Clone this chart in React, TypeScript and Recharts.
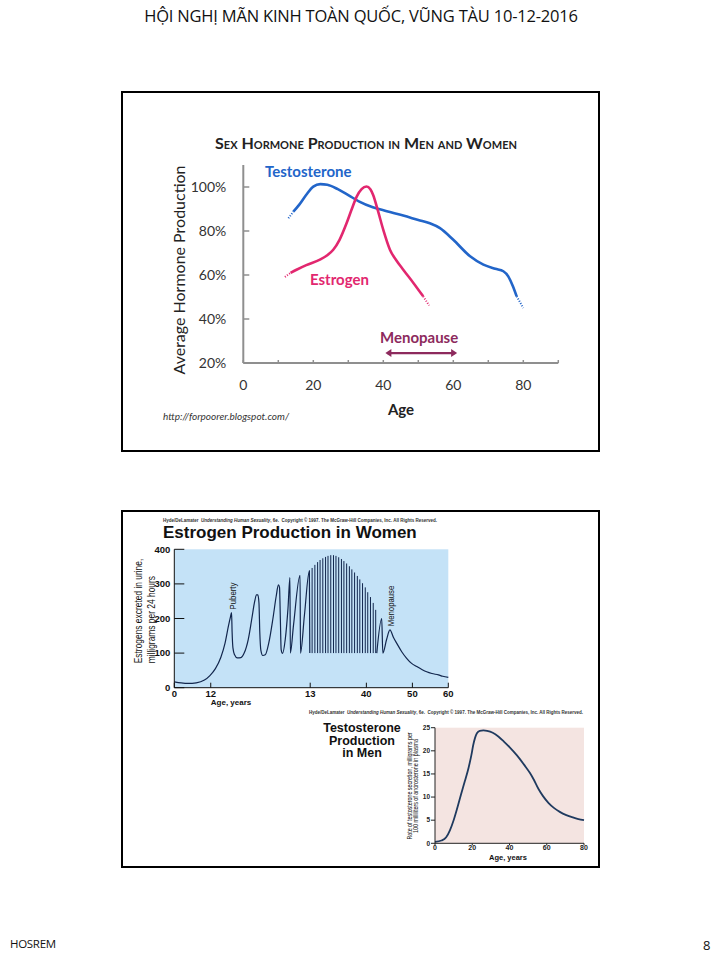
import React from "react";
import { CartesianGrid, Line, LineChart, ReferenceLine, XAxis, YAxis } from "recharts";

// ---------- chart 1: Sex hormone production in men and women (% of peak) ----------
const pctTicks = [20, 40, 60, 80, 100];
const ageTicks = [0, 10, 20, 30, 40, 50, 60, 70, 80, 90];

const testoAges = [14.3, 16, 18, 20, 22, 24, 27, 30, 33, 37, 41, 45.7, 50, 53.3, 56.2, 60, 64.8, 68.6, 72, 74.3, 75.7, 77, 78.1];
const testoValues = [88.8, 92, 96.5, 100.2, 101.3, 101, 99, 96.3, 93.5, 90.8, 89, 87, 85, 83.5, 81.3, 76, 68.5, 64.7, 62.8, 61.7, 59.4, 55, 50.3];
const testoHeadAges = [12.9, 14.3];
const testoHeadValues = [85.8, 88.8];
const testoTailAges = [78.1, 80];
const testoTailValues = [50.3, 45];

const estroAges = [13.5, 15.2, 18, 21.9, 24, 25.7, 27.5, 29.5, 31, 32.4, 33.8, 35.2, 36.3, 37.1, 38.5, 40, 41.9, 43.8, 45.7, 48.6, 51.4];
const estroValues = [61, 62.4, 64.5, 67, 69, 71.5, 76, 83.5, 90, 95.6, 99, 100.2, 99, 96.4, 89, 80.5, 71.5, 66.5, 62.4, 56.4, 50.3];
const estroHeadAges = [11.9, 13.5];
const estroHeadValues = [59.1, 61];
const estroTailAges = [51.4, 53.1];
const estroTailValues = [50.3, 46.1];

const menopauseFrom = 40.6;
const menopauseTo = 61.1;
const menopauseLevel = 24.5;

// ---------- chart 2: Estrogen production in women (x is position along a non-linear age axis) ----------
const womenTickPos = [0, 13.3, 49.6, 70.1, 86.9, 100];
const womenTickLabels = ["0", "12", "13", "40", "50", "60"];
const womenYTicks = [0, 100, 200, 300, 400];

const womenEarlyPos = [0, 2.5, 5, 8, 11, 13, 15, 17, 18.5, 19.8, 20.5, 20.9, 21.1, 21.4, 22, 23, 24.3, 25.5, 27, 28.3, 29.3, 30, 30.5, 30.9, 31.2, 31.6, 32.3, 33.2, 34.5, 36, 37.2, 38, 38.4, 38.7, 39, 39.5, 40.5, 41.5, 42.2, 42.35, 43.5, 45.9, 46.05, 47.5, 49.3, 49.45];
const womenEarlyValues = [17, 14, 12.5, 14, 22, 35, 55, 88, 128, 180, 205, 217, 160, 115, 95, 86, 87, 100, 140, 200, 248, 268, 268, 245, 160, 108, 93, 95, 130, 200, 265, 297, 290, 200, 110, 99, 140, 230, 318, 100, 180, 325, 100, 210, 338, 100];

const cyclePos = [50.3, 51.3, 52.3, 53.2, 54.2, 55.2, 56.1, 57.1, 58.1, 59, 60, 61, 61.9, 62.9, 63.9, 64.8, 65.8, 66.8, 67.7, 68.7, 69.7, 70.6, 71.6, 72.6, 73.5];
const cyclePeaks = [346, 355, 363, 369, 374, 378, 381, 383, 383, 381, 377, 372, 366, 359, 351, 342, 333, 323, 313, 302, 290, 276, 262, 245, 225];
const cycleBase = 100;

const womenLatePos = [73.9, 75.7, 76.1, 77.5, 78.7, 80, 81.2, 83, 84.8, 86.5, 88.5, 90.5, 92.1, 94, 96.4, 98, 100];
const womenLateValues = [100, 200, 100, 140, 167, 145, 128, 104, 85, 71, 61, 52, 46, 41, 37, 33, 30];

// ---------- chart 3: Testosterone production in men ----------
const menTicksX = [0, 20, 40, 60, 80];
const menTicksY = [0, 5, 10, 15, 20, 25];
const menAges = [0, 3.5, 6, 8, 10, 12, 14, 16, 18, 19.5, 20.5, 21.5, 22.5, 24, 26, 28, 31, 34, 37, 40, 44, 48, 51, 53, 55.5, 58, 61, 64, 67, 70.5, 74, 77, 80];
const menValues = [0.3, 0.6, 1.3, 2.8, 5, 7.7, 10.6, 13.4, 16.3, 19, 21.2, 22.8, 23.8, 24.3, 24.4, 24.3, 23.9, 23.1, 22, 20.8, 19, 16.9, 15.2, 13.8, 11.8, 10.2, 8.7, 7.6, 6.8, 6.1, 5.6, 5.25, 5];

const zip = (xs: number[], ys: number[], xk = "x") => xs.map((x, i) => ({ [xk]: x, v: ys[i] }));

const cycleData = cyclePos.flatMap((u, i) => [
  { x: u, v: cycleBase },
  { x: u, v: cyclePeaks[i] },
  { x: u, v: null },
]);

const BLUE = "#2265c9";
const PINK = "#e2276f";
const PLUM = "#8d2a5d";
const NAVY = "#12264d";
const ARIAL = "'Liberation Sans', Arial, sans-serif";
const LATO = "Lato, 'Open Sans', sans-serif";

type TickOpts = {
  side: "left" | "bottom";
  margin: number;
  len: number;
  color: string;
  width: number;
  text: React.SVGProps<SVGTextElement>;
  fmt: (v: number) => string;
};

// tick marks drawn inward (into the plot), like the source figures
function innerTick(o: TickOpts) {
  return (p: any) => {
    const label = o.fmt(p.payload.value);
    if (o.side === "left") {
      const ax = p.x + o.margin;
      return (
        <g>
          <line x1={ax} x2={ax + o.len} y1={p.y} y2={p.y} stroke={o.color} strokeWidth={o.width} />
          <text x={p.x} y={p.y} dy="0.35em" textAnchor="end" {...o.text}>
            {label}
          </text>
        </g>
      );
    }
    const ay = p.y - o.margin;
    return (
      <g>
        <line x1={p.x} x2={p.x} y1={ay} y2={ay - o.len} stroke={o.color} strokeWidth={o.width} />
        {label !== "" && (
          <text x={p.x} y={p.y} dy="0.72em" textAnchor="middle" {...o.text}>
            {label}
          </text>
        )}
      </g>
    );
  };
}

function ArrowShape(p: any) {
  const { x1, y1, x2, y2 } = p;
  const h = 6;
  return (
    <g>
      <line x1={x1 + 2} y1={y1} x2={x2 - 2} y2={y2} stroke={PLUM} strokeWidth={2.2} />
      <polygon points={`${x1},${y1} ${x1 + h},${y1 - 4} ${x1 + h},${y1 + 4}`} fill={PLUM} />
      <polygon points={`${x2},${y2} ${x2 - h},${y2 - 4} ${x2 - h},${y2 + 4}`} fill={PLUM} />
    </g>
  );
}

const abs = (s: React.CSSProperties): React.CSSProperties => ({ position: "absolute", whiteSpace: "nowrap", ...s });
const centered = (cx: number, cy: number, s: React.CSSProperties = {}): React.CSSProperties =>
  abs({ left: cx, top: cy, transform: "translate(-50%, -50%)", ...s });
// rotated text, optionally condensed along its own direction (the source uses a narrow face)
const rotated = (cx: number, cy: number, s: React.CSSProperties = {}, squeeze = 1): React.CSSProperties =>
  abs({ left: cx, top: cy, transform: `translate(-50%, -50%) rotate(-90deg) scaleX(${squeeze})`, ...s });

const copyright = (
  <>
    Hyde/DeLamater&nbsp;&nbsp;<i>Understanding Human Sexuality</i>, 6e.&nbsp;&nbsp;Copyright © 1997. The McGraw-Hill
    Companies, Inc. All Rights Reserved.
  </>
);

function HormoneChart() {
  return (
    <div style={abs({ left: 121, top: 91 })}>
      <LineChart width={479} height={361} margin={{ top: 74, right: 41.7, bottom: 59, left: 62.3 }}>
        <XAxis
          type="number"
          dataKey="x"
          domain={[0, 90]}
          ticks={ageTicks}
          interval={0}
          height={30}
          stroke="#8f8f8f"
          strokeWidth={2}
          tickLine={false}
          tickSize={0}
          tickMargin={17}
          tick={innerTick({
            side: "bottom",
            margin: 17,
            len: 3,
            color: "#8f8f8f",
            width: 1.5,
            text: { fontSize: 14, fill: "#333", fontFamily: LATO },
            fmt: (v) => (v % 20 === 0 && v <= 80 ? String(v) : ""),
          })}
        />
        <YAxis
          type="number"
          domain={[20, 110]}
          ticks={pctTicks}
          interval={0}
          width={60}
          stroke="#8f8f8f"
          strokeWidth={2}
          tickLine={false}
          tickSize={0}
          tickMargin={17}
          tick={innerTick({
            side: "left",
            margin: 17,
            len: 6,
            color: "#8f8f8f",
            width: 1.5,
            text: { fontSize: 14, fill: "#333", fontFamily: LATO },
            fmt: (v) => `${v}%`,
          })}
        />
        <ReferenceLine
          segment={[
            { x: menopauseFrom, y: menopauseLevel },
            { x: menopauseTo, y: menopauseLevel },
          ]}
          shape={ArrowShape}
        />
        <Line data={zip(testoAges, testoValues)} dataKey="v" type="monotone" stroke={BLUE} strokeWidth={2.6} dot={false} isAnimationActive={false} />
        <Line data={zip(testoHeadAges, testoHeadValues)} dataKey="v" type="linear" stroke={BLUE} strokeWidth={2} strokeDasharray="1 1.6" dot={false} isAnimationActive={false} />
        <Line data={zip(testoTailAges, testoTailValues)} dataKey="v" type="linear" stroke={BLUE} strokeWidth={2} strokeDasharray="1 1.6" dot={false} isAnimationActive={false} />
        <Line data={zip(estroAges, estroValues)} dataKey="v" type="monotone" stroke={PINK} strokeWidth={2.6} dot={false} isAnimationActive={false} />
        <Line data={zip(estroHeadAges, estroHeadValues)} dataKey="v" type="linear" stroke={PINK} strokeWidth={2} strokeDasharray="1 1.6" dot={false} isAnimationActive={false} />
        <Line data={zip(estroTailAges, estroTailValues)} dataKey="v" type="linear" stroke={PINK} strokeWidth={2} strokeDasharray="1 1.6" dot={false} isAnimationActive={false} />
      </LineChart>
    </div>
  );
}

function WomenChart() {
  return (
    <div style={abs({ left: 121, top: 540 })}>
      <LineChart width={340} height={175} margin={{ top: 9.3, right: 12.7, bottom: 12.3, left: 28.3 }}>
        <CartesianGrid fill="#c4e2f7" horizontal={false} vertical={false} />
        <XAxis
          type="number"
          dataKey="x"
          domain={[0, 100]}
          ticks={womenTickPos}
          interval={0}
          height={15}
          stroke="#111"
          tickLine={false}
          tickSize={0}
          tickMargin={2}
          tick={innerTick({
            side: "bottom",
            margin: 2,
            len: 5,
            color: "#111",
            width: 1,
            text: { fontSize: 9.5, fontWeight: 700, fill: "#111", fontFamily: ARIAL },
            fmt: (v) => womenTickLabels[womenTickPos.indexOf(v)] ?? "",
          })}
        />
        <YAxis
          type="number"
          domain={[0, 400]}
          ticks={womenYTicks}
          interval={0}
          width={25}
          stroke="#111"
          tickLine={false}
          tickSize={0}
          tickMargin={4}
          tick={innerTick({
            side: "left",
            margin: 4,
            len: 10,
            color: "#111",
            width: 1,
            text: { fontSize: 9.5, fontWeight: 700, fill: "#111", fontFamily: ARIAL },
            fmt: (v) => String(v),
          })}
        />
        <Line data={zip(womenEarlyPos, womenEarlyValues)} dataKey="v" type="monotone" stroke={NAVY} strokeWidth={1.2} dot={false} isAnimationActive={false} />
        <Line data={cycleData} dataKey="v" type="linear" stroke={NAVY} strokeWidth={1} dot={false} isAnimationActive={false} />
        <Line data={zip(womenLatePos, womenLateValues)} dataKey="v" type="monotone" stroke={NAVY} strokeWidth={1.2} dot={false} isAnimationActive={false} />
      </LineChart>
    </div>
  );
}

function MenChart() {
  return (
    <div style={abs({ left: 380, top: 720 })}>
      <LineChart width={215} height={145} margin={{ top: 7.7, right: 11, bottom: 9.7, left: 40 }}>
        <CartesianGrid fill="#f4e4e1" horizontal={false} vertical={false} />
        <XAxis
          type="number"
          dataKey="x"
          domain={[0, 80]}
          ticks={menTicksX}
          interval={0}
          height={12}
          stroke="#222"
          tickSize={2}
          tickMargin={0}
          tick={{ fontSize: 7, fontWeight: 700, fill: "#222", fontFamily: ARIAL }}
        />
        <YAxis
          type="number"
          domain={[0, 25]}
          ticks={menTicksY}
          interval={0}
          width={15}
          stroke="#222"
          tickSize={4}
          tickMargin={1}
          tick={{ fontSize: 6.5, fontWeight: 700, fill: "#222", fontFamily: ARIAL }}
        />
        <Line data={zip(menAges, menValues)} dataKey="v" type="monotone" stroke="#1f3a5f" strokeWidth={1.8} dot={false} isAnimationActive={false} />
      </LineChart>
    </div>
  );
}

export default function App() {
  return (
    <div style={abs({ left: 0, top: 0, width: 720, height: 960, background: "#fff", fontFamily: "'Open Sans', sans-serif", color: "#111" })}>
      <div style={centered(361, 15, { fontSize: 16.5, letterSpacing: -0.2 })}>HỘI NGHỊ MÃN KINH TOÀN QUỐC, VŨNG TÀU 10-12-2016</div>
      <div style={abs({ left: 10, top: 936, fontSize: 11.5, letterSpacing: -0.3 })}>HOSREM</div>
      <div style={abs({ left: 703, top: 936, fontSize: 13 })}>8</div>

      <div style={abs({ left: 121, top: 91, width: 479, height: 361, border: "2px solid #000", boxSizing: "border-box" })} />
      <div style={abs({ left: 121, top: 510, width: 479, height: 358, border: "2px solid #000", boxSizing: "border-box" })} />

      {/* top slide figure */}
      <div style={centered(366, 142, { fontFamily: LATO, fontWeight: 700, fontSize: 16, fontVariant: "small-caps", color: "#222" })}>
        Sex Hormone Production in Men and Women
      </div>
      <div style={rotated(178, 270, { fontFamily: LATO, fontSize: 16, color: "#222" })}>Average Hormone Production</div>
      <HormoneChart />
      <div style={abs({ left: 265, top: 162, fontFamily: LATO, fontWeight: 700, fontSize: 15, color: BLUE })}>Testosterone</div>
      <div style={abs({ left: 310, top: 270, fontFamily: LATO, fontWeight: 700, fontSize: 15, color: PINK })}>Estrogen</div>
      <div style={abs({ left: 380, top: 328, fontFamily: LATO, fontWeight: 700, fontSize: 15, color: PLUM })}>Menopause</div>
      <div style={centered(401, 409, { fontFamily: LATO, fontWeight: 700, fontSize: 15, color: "#222" })}>Age</div>
      <div style={abs({ left: 163, top: 410, fontFamily: LATO, fontStyle: "italic", fontSize: 10, color: "#333" })}>http://forpoorer.blogspot.com/</div>

      {/* bottom slide: estrogen in women */}
      <div style={abs({ left: 163, top: 518, fontFamily: ARIAL, fontWeight: 700, fontSize: 4.5, color: "#333" })}>{copyright}</div>
      <div style={abs({ left: 163, top: 523, fontFamily: ARIAL, fontWeight: 700, fontSize: 17, color: "#111" })}>Estrogen Production in Women</div>
      <div style={rotated(145, 611, { fontFamily: ARIAL, fontSize: 10.5, lineHeight: "13px", textAlign: "left", color: "#111" }, 0.8)}>
        Estrogens excreted in urine,
        <br />
        milligrams per 24 hours
      </div>
      <WomenChart />
      <div style={rotated(231.5, 596, { fontFamily: ARIAL, fontSize: 9.5, color: "#111" }, 0.82)}>Puberty</div>
      <div style={rotated(390, 606, { fontFamily: ARIAL, fontSize: 9.5, color: "#111" }, 0.82)}>Menopause</div>
      <div style={centered(231, 702, { fontFamily: ARIAL, fontWeight: 700, fontSize: 8, color: "#111" })}>Age, years</div>

      {/* bottom slide: testosterone in men */}
      <div style={abs({ right: 720 - 583, top: 710, fontFamily: ARIAL, fontWeight: 700, fontSize: 4.5, color: "#333" })}>{copyright}</div>
      <div style={centered(362, 741, { fontFamily: ARIAL, fontWeight: 700, fontSize: 12.5, lineHeight: "12.5px", textAlign: "center", color: "#111" })}>
        Testosterone
        <br />
        Production
        <br />
        in Men
      </div>
      <div style={rotated(411.7, 786, { fontFamily: ARIAL, fontSize: 6.5, lineHeight: "5.5px", textAlign: "center", color: "#111" }, 0.82)}>
        Rate of testosterone secretion, milligrams per
        <br />
        100 milliliters of androsterone in plasma
      </div>
      <MenChart />
      <div style={centered(508, 857, { fontFamily: ARIAL, fontWeight: 700, fontSize: 7.5, color: "#111" })}>Age, years</div>
    </div>
  );
}
